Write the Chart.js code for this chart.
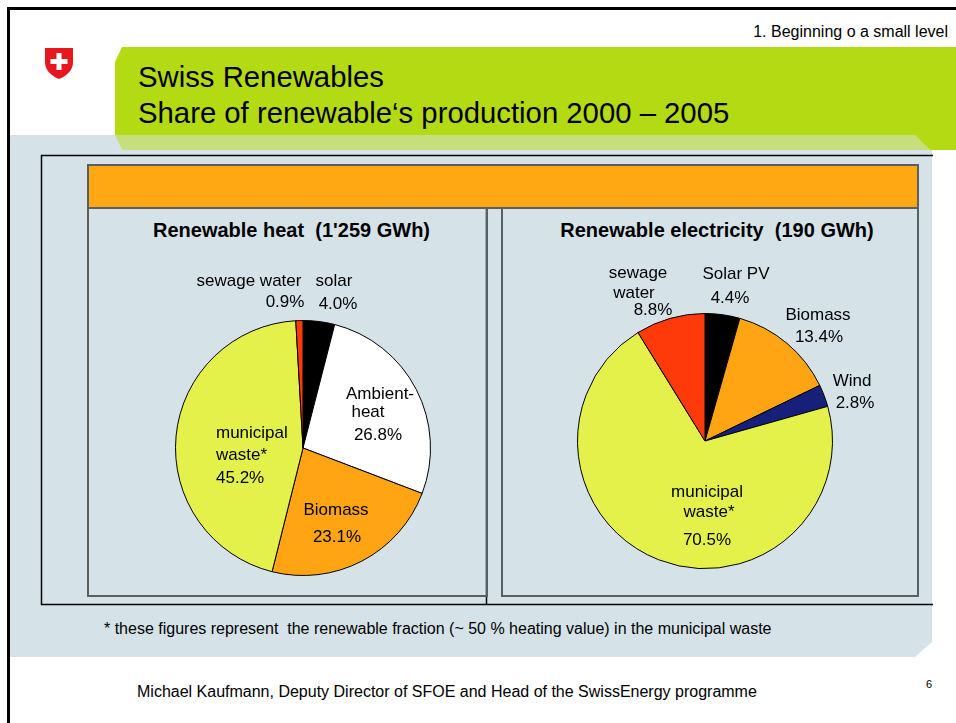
<!DOCTYPE html>
<html>
<head>
<meta charset="utf-8">
<script src="https://cdn.jsdelivr.net/npm/chart.js@4.4.1/dist/chart.umd.min.js"></script>
<style>
  html, body { margin: 0; padding: 0; background: #fff; }
  body { width: 956px; height: 723px; position: relative; overflow: hidden;
         font-family: "Liberation Sans", Arial, sans-serif; color: #000; }
  .abs { position: absolute; }
  .frameTop { left: 7px; top: 7px; width: 960px; height: 3px; background: #000; }
  .frameLeft { left: 7px; top: 7px; width: 3px; height: 720px; background: #000; }
  .txt { position: absolute; white-space: nowrap; line-height: 1; }
  .panel { position: absolute; border: 2px solid #5a5f62; box-sizing: border-box; }
  canvas { position: absolute; }
</style>
</head>
<body>
<svg class="abs" style="left:0;top:0" width="956" height="723">
  <!-- blue-grey body -->
  <polygon points="10,135 932,135 932,642 915,657 10,657" fill="#d5e3e8"/>
  <!-- light green strip -->
  <polygon points="115,135 915,135 930,150 122,150" fill="#c6df7c"/>
  <!-- green banner -->
  <polygon points="122,47 956,47 956,150 930,150 915,135 115,135 115,62" fill="#b4da14"/>
  <!-- swiss shield -->
  <path d="M45,48 L73,48 L73,62 Q73,73 59,79 Q45,73 45,62 Z" fill="#e8171f"/>
  <rect x="56.5" y="53" width="5" height="17" fill="#fff"/>
  <rect x="50.5" y="59" width="17" height="5" fill="#fff"/>
  <!-- black outline -->
  <polyline points="933,155.5 41.5,155.5 41.5,604.5 933,604.5" fill="none" stroke="#000" stroke-width="1.5"/>
  <line x1="486.5" y1="208" x2="486.5" y2="604" stroke="#000" stroke-width="1.5"/>
</svg>
<div class="abs frameTop"></div>
<div class="abs frameLeft"></div>

<div class="txt" style="right:8px;top:24px;font-size:16px;">1. Beginning o a small level</div>
<div class="txt" style="left:138px;top:62px;font-size:29.3px;">Swiss Renewables</div>
<div class="txt" style="left:138px;top:98px;font-size:29.3px;">Share of renewable‘s production 2000 – 2005</div>

<div class="panel" style="left:87px;top:164px;width:832px;height:45px;background:#ffa814;"></div>
<div class="panel" style="left:87px;top:207px;width:401px;height:390px;"></div>
<div class="panel" style="left:501px;top:207px;width:418px;height:390px;"></div>

<div class="txt" style="left:91px;width:401px;text-align:center;top:220px;font-size:20px;font-weight:bold;">Renewable heat&nbsp; (1'259 GWh)</div>
<div class="txt" style="left:508px;width:418px;text-align:center;top:220px;font-size:20px;font-weight:bold;">Renewable electricity&nbsp; (190 GWh)</div>

<canvas id="heatChart" width="396" height="344" style="left:88px;top:250px;"></canvas>
<canvas id="elecChart" width="414" height="344" style="left:503px;top:250px;"></canvas>

<div class="txt" style="left:104px;top:621px;font-size:16px;">* these figures represent&nbsp; the renewable fraction (~ 50 % heating value) in the municipal waste</div>
<div class="txt" style="left:137px;top:684px;font-size:16px;">Michael Kaufmann, Deputy Director of SFOE and Head of the SwissEnergy programme</div>
<div class="txt" style="left:926px;top:679px;font-size:11px;">6</div>

<script>
// renewable heat 2000-2005 (share in %)
var heatLabels = ['solar', 'Ambient-\nheat', 'Biomass', 'municipal\nwaste*', 'sewage water'];
var heatValues = [4.0, 26.8, 23.1, 45.2, 0.9];
var heatColors = ['#000000', '#ffffff', '#ffa514', '#e4f14b', '#ff3a0a'];

// renewable electricity 2000-2005 (share in %)
var elecLabels = ['Solar PV', 'Biomass', 'Wind', 'municipal\nwaste*', 'sewage\nwater'];
var elecValues = [4.4, 13.4, 2.8, 70.5, 8.8];
var elecColors = ['#000000', '#ffa514', '#16207a', '#e4f14b', '#ff3a0a'];

// where each text line sits, measured from the pie centre
var heatPlace = [
    {lines: [[31, -167], [35, -144]]},
    {lines: [[77, -54], [65, -36], [75, -13]]},
    {lines: [[33, 62], [34, 89]]},
    {lines: [[-87, -15], [-87, 7], [-87, 30]], align: 'left'},
    {lines: [[-54, -167], [-18, -146]]}
];
var elecPlace = [
    {lines: [[31, -167], [25, -143]]},
    {lines: [[113, -126], [114, -104]]},
    {lines: [[147, -60], [150, -38]]},
    {lines: [[2, 51], [4, 71], [2, 99]]},
    {lines: [[-67, -168], [-71, -148], [-52, -131]]}
];

var sliceText = {
    id: 'sliceText',
    afterDraw: function(chart, args, opts) {
        let ctx = chart.ctx;
        let meta = chart.getDatasetMeta(0);
        let cx = meta.data[0].x;
        let cy = meta.data[0].y;
        let values = chart.data.datasets[0].data;
        ctx.save();
        ctx.fillStyle = '#000';
        ctx.font = '17px "Liberation Sans", Arial, sans-serif';
        ctx.textBaseline = 'middle';
        chart.data.labels.forEach((label, i) => {
            let texts = label.split('\n');
            texts.push(values[i].toFixed(1) + '%');
            let place = opts.place[i];
            ctx.textAlign = place.align || 'center';
            texts.forEach((t, k) => {
                let p = place.lines[k];
                ctx.fillText(t, cx + p[0], cy + p[1]);
            });
        });
        ctx.restore();
    }
};

function makePie(id, labels, values, colors, place, padding) {
    let ctx = document.getElementById(id).getContext('2d');
    return new Chart(ctx, {
        type: 'pie',
        data: {
            labels: labels,
            datasets: [{
                data: values,
                backgroundColor: colors,
                borderColor: '#000',
                borderWidth: 1
            }]
        },
        options: {
            responsive: false,
            animation: false,
            devicePixelRatio: 1,
            layout: { padding: padding },
            plugins: {
                legend: { display: false },
                tooltip: { enabled: false },
                sliceText: { place: place }
            }
        },
        plugins: [sliceText]
    });
}

makePie('heatChart', heatLabels, heatValues, heatColors, heatPlace, {left: 87, right: 53, top: 70, bottom: 18});
makePie('elecChart', elecLabels, elecValues, elecColors, elecPlace, {left: 74, right: 84, top: 63, bottom: 25});
</script>
</body>
</html>
